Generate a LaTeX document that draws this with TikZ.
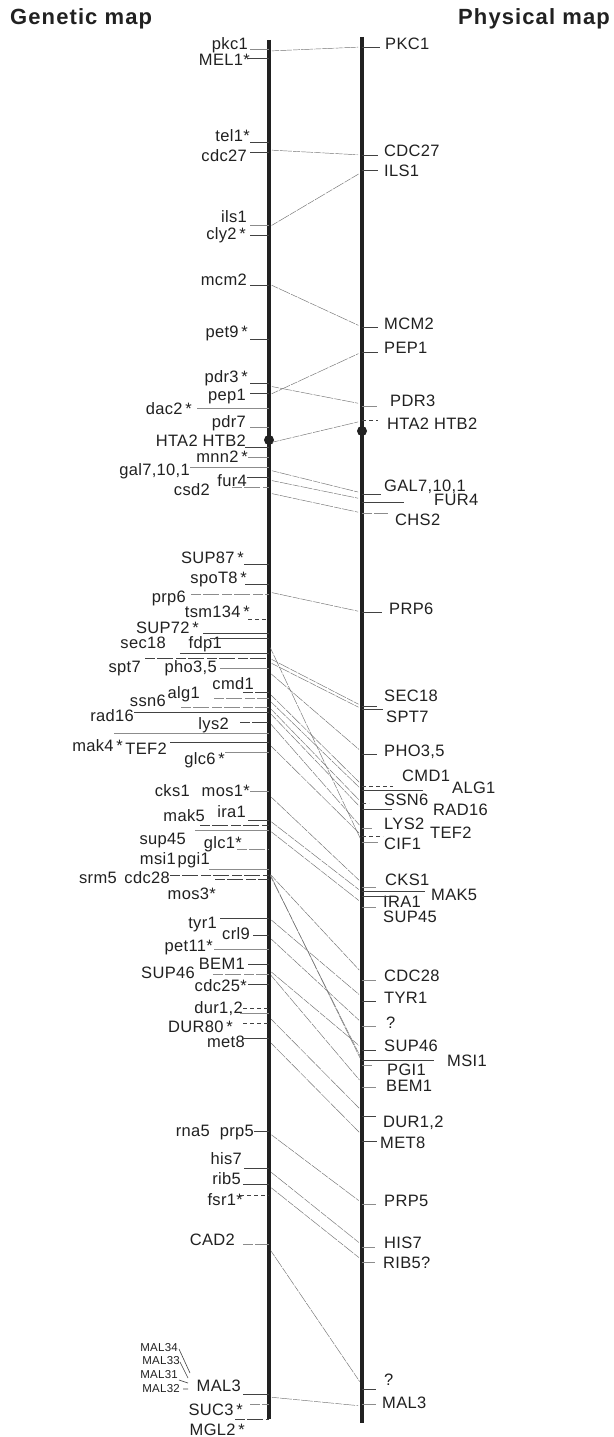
\documentclass[tikz,border=0pt]{standalone}
\usepackage{fontspec}
\setmainfont{Liberation Sans}[LetterSpace=2]
\newfontfamily\titlefont{Liberation Sans}[LetterSpace=5]
\definecolor{ink}{gray}{0.13}
\newcommand\LG[6][]{\node[lab,anchor=east] (n#2) at (#5,#6) {\GeneText};\coordinate (t#2) at (#4,#3);\coordinate (c#2) at (269,#3);\draw[tick,#1] (t#2) -- (c#2);}
\newcommand\RG[6][]{\node[lab,anchor=west] (n#2) at (#5,#6) {\GeneText};\coordinate (t#2) at (#4,#3);\coordinate (c#2) at (362,#3);\draw[tick,#1] (c#2) -- (t#2);}
\def\GeneText{}
\newcommand\T[1]{\def\GeneText{#1}}
\begin{document}
\begin{tikzpicture}[x=1pt,y=-1pt,
 lab/.style={inner sep=0pt,font=\fontsize{16.5}{16.5}\selectfont,text=ink,text height=12pt,text depth=0pt},
 tiny/.style={inner sep=0pt,font=\fontsize{11.5}{11.5}\selectfont,text=ink,anchor=east},
 tick/.style={line width=0.6pt,draw=ink!85},
 lt/.style={line width=0.8pt,draw=black!45},
 br/.style={dash pattern=on 10pt off 2pt on 16pt off 3pt},
 dt/.style={line width=0.6pt,dash pattern=on 4pt off 3pt},
 conn/.style={line width=0.45pt,draw=black!55,dash pattern=on 7pt off 1pt on 12pt off 1.2pt,shorten <=3pt,shorten >=4pt},
 chrom/.style={line width=3.7pt,draw=ink},
 cen/.style={circle,fill=ink,minimum size=10pt,inner sep=0pt},
 ttl/.style={inner sep=0pt,font=\titlefont\bfseries\fontsize{22}{22}\selectfont,text=ink}]
\useasboundingbox (0,0) rectangle (613,1437);
\fill[white] (0,0) rectangle (613,1437);
\node[ttl,anchor=base west] (gm) at (10,24.5) {Genetic map};
\node[ttl,anchor=base west] (pm) at (458,24.5) {Physical map};
% spines
\coordinate (lt) at (269,40);\coordinate (lb) at (269,1419);
\coordinate (rt) at (362,37);\coordinate (rb) at (362,1423);
\draw[chrom] (lt) -- (lb);
\draw[chrom] (rt) -- (rb);
\node[cen] (cl) at (269,440) {};
\node[cen] (cr) at (362,431) {};
% left
\T{pkc1}\LG[lt]{pkc}{49}{250}{248}{44}
\T{MEL1*}\LG{mel}{58}{248}{250}{60}
\T{tel1*}\LG{tel}{142.5}{250}{250}{135}
\T{cdc27}\LG{cdc}{152}{250}{247}{155}
\T{ils1}\LG[lt]{ils}{225}{250}{247}{216}
\T{cly2\,*}\LG{cly}{235}{250}{246}{233}
\T{mcm2}\LG{mcm}{285}{250}{247}{279}
\T{pet9\,*}\LG{pet}{339}{250}{248}{331}
\T{pdr3\,*}\LG{pdr}{383}{250}{248}{376}
\T{pep1}\LG{pep}{393}{250}{246}{394}
\T{dac2\,*}\LG[lt]{dac}{408}{197}{192}{408}
\T{pdr7}\LG[lt]{pds}{427}{250}{246}{421}
\T{HTA2 HTB2}\LG{hta}{447}{245}{246}{440}
\T{mnn2\,*}\LG[lt]{mnn}{457}{248}{248}{456}
\T{gal7,10,1}\LG[lt]{gal}{467}{190}{190}{469}
\T{fur4}\LG{fur}{477}{247}{247}{480}
\T{csd2}\LG[lt,br]{csd}{487}{232}{210}{489}
\T{SUP87\,*}\LG{sue}{564}{244}{244}{557}
\T{spoT8\,*}\LG{spo}{584}{245}{247}{577}
\T{prp6}\LG[lt,br]{prp}{594}{191}{186}{596}
\T{tsm134\,*}\LG[dt]{tsm}{619}{248}{250}{611}
\T{SUP72\,*}\LG{sus}{633}{203}{199}{627}
\T{fdp1}\LG{fdp}{638}{210}{222}{642}
\T{sec18}\LG{sec}{653}{180}{166}{642}
\T{spt7}\LG[br]{spt}{658}{145}{141}{666}
\T{pho3,5}\LG[lt]{pho}{668}{220}{217}{666}
\T{cmd1}\LG[br]{cmd}{692}{243}{254}{683}
\T{alg1}\LG[lt,br]{alg}{698}{214}{200}{692}
\T{ssn6}\LG[lt,br]{ssn}{707}{181}{166}{700}
\T{rad16}\LG{rad}{712}{134}{134}{715}
\T{lys2}\LG[br]{lys}{722}{240}{229}{723}
\T{mak4\,*}\LG[lt]{mak}{733}{114}{123}{745}
\T{TEF2}\LG{tef}{742}{170}{167}{748}
\T{glc6\,*}\LG[lt]{glc}{752}{225}{225}{758}
\T{cks1}\LG{cks}{791}{269}{190}{790}
\T{mos1*}\LG[lt]{mos}{791}{250}{250}{790}
\T{ira1}\LG{ira}{820}{248}{246}{811}
\T{mak5}\LG[br]{mkf}{825}{200}{205}{815}
\T{sup45}\LG[lt]{sup}{830}{195}{186}{838}
\T{glc1*}\LG[lt,br]{glo}{849}{237}{242}{842}
\T{msi1}\LG{msi}{869}{269}{176}{858}
\T{pgi1}\LG[lt]{pgi}{869}{209}{210}{858}
\T{cdc28}\LG[br]{cdd}{875}{170}{170}{877}
\T{srm5}\LG{srm}{876}{269}{117}{877}
\T{mos3*}\LG[br]{mot}{879}{215}{216}{893}
\T{tyr1}\LG{tyr}{918}{220}{217}{922}
\T{crl9}\LG{crl}{935}{253}{250}{933}
\T{pet11*}\LG[lt]{peu}{949}{214}{213}{945}
\T{BEM1}\LG{bem}{964}{248}{245}{963}
\T{SUP46}\LG[lt,br]{suf}{974}{213}{195}{972}
\T{cdc25*}\LG{cdf}{984}{248}{247}{985}
\T{dur1,2}\LG[dt]{dur}{1008}{243}{243}{1007}
\coordinate (tdua) at (240,1013);\coordinate (cdua) at (269,1013);\draw[tick,lt] (tdua) -- (cdua);
\T{DUR80\,*}\LG[dt]{duv}{1023}{243}{233}{1026}
\T{met8}\LG{met}{1038}{243}{245}{1041}
\T{rna5}\LG{rna}{1131}{269}{210}{1130}
\T{prp5}\LG{prf}{1131}{254}{254}{1130}
\T{his7}\LG{his}{1168.5}{244}{242}{1158}
\T{rib5}\LG{rib}{1184}{243}{241}{1178}
\T{fsr1*}\LG[dt]{fsr}{1195}{240}{243}{1199}
\T{CAD2}\LG[lt,br]{cad}{1244}{243}{235}{1239}
\T{MAL3}\LG{mal}{1394}{243}{241}{1385}
\T{SUC3\,*}\LG[lt,br]{suc}{1404}{250}{243}{1409}
\T{MGL2\,*}\LG[br]{mgl}{1419}{235}{245}{1429}
% MAL family
\node[tiny] (m34) at (178,1348) {MAL34};
\node[tiny] (m33) at (180,1361) {MAL33};
\node[tiny] (m31) at (178,1375) {MAL31};
\node[tiny] (m32) at (180,1389) {MAL32};
\coordinate (a34) at (179,1349);\coordinate (b34) at (190,1373);
\coordinate (a33) at (180,1362);\coordinate (b33) at (188,1378);
\coordinate (a31) at (179,1380);\coordinate (b31) at (188,1383);
\coordinate (a32) at (183,1389);\coordinate (b32) at (188,1389);
\draw[tick] (a34)--(b34) (a33)--(b33) (a31)--(b31) (a32)--(b32);
% right
\T{PKC1}\RG{PKC}{47}{380}{385}{43}
\T{CDC27}\RG{CDC}{155}{378}{384}{150}
\T{ILS1}\RG{ILS}{170}{378}{384}{170}
\T{MCM2}\RG{MCM}{327}{378}{384}{323}
\T{PEP1}\RG{PEP}{352}{378}{384}{347}
\T{PDR3}\RG[lt]{PDR}{406}{377}{390}{400}
\T{HTA2 HTB2}\RG[dt]{HTA}{420}{378}{387}{423}
\T{GAL7,10,1}\RG{GAL}{494}{381}{384}{485}
\T{FUR4}\RG{FUR}{502}{404}{434}{499}
\T{CHS2}\RG[lt,br]{CHS}{513}{388}{395}{519}
\T{PRP6}\RG{PRP}{612}{382}{389}{608}
\T{SEC18}\RG{SEC}{706}{377}{384}{695}
\T{SPT7}\RG{SPT}{709}{383}{386}{716}
\T{PHO3,5}\RG{PHO}{754}{377}{384}{750}
\T{CMD1}\RG[dt]{CMD}{786}{393}{402}{775}
\T{ALG1}\RG{ALG}{790}{423}{452}{787}
\T{SSN6}\RG[dt]{SSN}{803}{369}{384}{799}
\T{RAD16}\RG{RAD}{809}{392}{433}{809}
\T{LYS2}\RG[lt]{LYS}{828}{372}{384}{823}
\T{TEF2}\RG[dt]{TEF}{836}{383}{430}{832}
\T{CIF1}\RG[lt]{CIF}{842}{378}{384}{843}
\T{CKS1}\RG[lt]{CKS}{887}{376}{385}{879}
\T{MAK5}\RG{MAK}{891}{425}{431}{894}
\T{IRA1}\RG{IRA}{896}{390}{383}{901}
\T{SUP45}\RG[lt]{SUP}{907}{376}{383}{916}
\T{CDC28}\RG[lt]{CDD}{980}{376}{384}{975}
\T{TYR1}\RG{TYR}{1001}{376}{384}{997}
\T{?}\RG[lt]{QQA}{1026}{376}{386}{1022}
\T{SUP46}\RG{SUF}{1050}{376}{384}{1045}
\T{MSI1}\RG{MSI}{1060}{434}{447}{1060}
\T{PGI1}\RG[lt]{PGI}{1065}{372}{387}{1069}
\T{BEM1}\RG[lt]{BEM}{1087}{376}{386}{1085}
\T{DUR1,2}\RG{DUR}{1116}{376}{383}{1121}
\T{MET8}\RG{MET}{1141}{377}{380}{1142}
\T{PRP5}\RG[lt]{PRF}{1204}{376}{384}{1200}
\T{HIS7}\RG[lt]{HIS}{1247}{375}{384}{1242}
\T{RIB5?}\RG[lt]{RIB}{1262}{375}{383}{1262}
\T{?}\RG{QQB}{1389}{376}{384}{1379}
\T{MAL3}\RG[lt]{MAL}{1404}{376}{382}{1402}
% connectors: left, right, start offset, end offset (downward)
\foreach \a/\b/\da/\db in {pkc/PKC/2/0,cdc/CDC/-2/0,cly/ILS/-8/2,mcm/MCM/-1/0,pep/PEP/2/0,pdr/PDR/3/-2,hta/HTA/-4/1,
 gal/GAL/3/-1,fur/FUR/3/-3,csd/CHS/6/0,prp/PRP/-2/0,
 fdp/CIF/7/0,sec/SEC/5/0,spt/SPT/4/0,pho/PHO/4/-2,cmd/CMD/1/-1,alg/ALG/2/0,ssn/SSN/0/0,rad/RAD/0/0,lys/LYS/0/0,tef/TEF/2/0,
 cks/CKS/4/-4,mkf/MAK/-5/1,sup/SUP/0/-4,msi/MSI/4/0,pgi/PGI/3/-3,cdd/CDD/-2/-7,tyr/TYR/0/-4,crl/QQA/2/-3,
 suf/SUF/-4/-2,bem/BEM/9/-4,dua/DUR/4/-5,met/MET/3/-6,
 prf/PRF/2/-1,his/HIS/2/-2,rib/RIB/2/-2,cad/QQB/4/-4,mal/MAL/3/2}
 \draw[conn] ([yshift=-\da pt]c\a) -- ([yshift=-\db pt]c\b);
\end{tikzpicture}
\end{document}
